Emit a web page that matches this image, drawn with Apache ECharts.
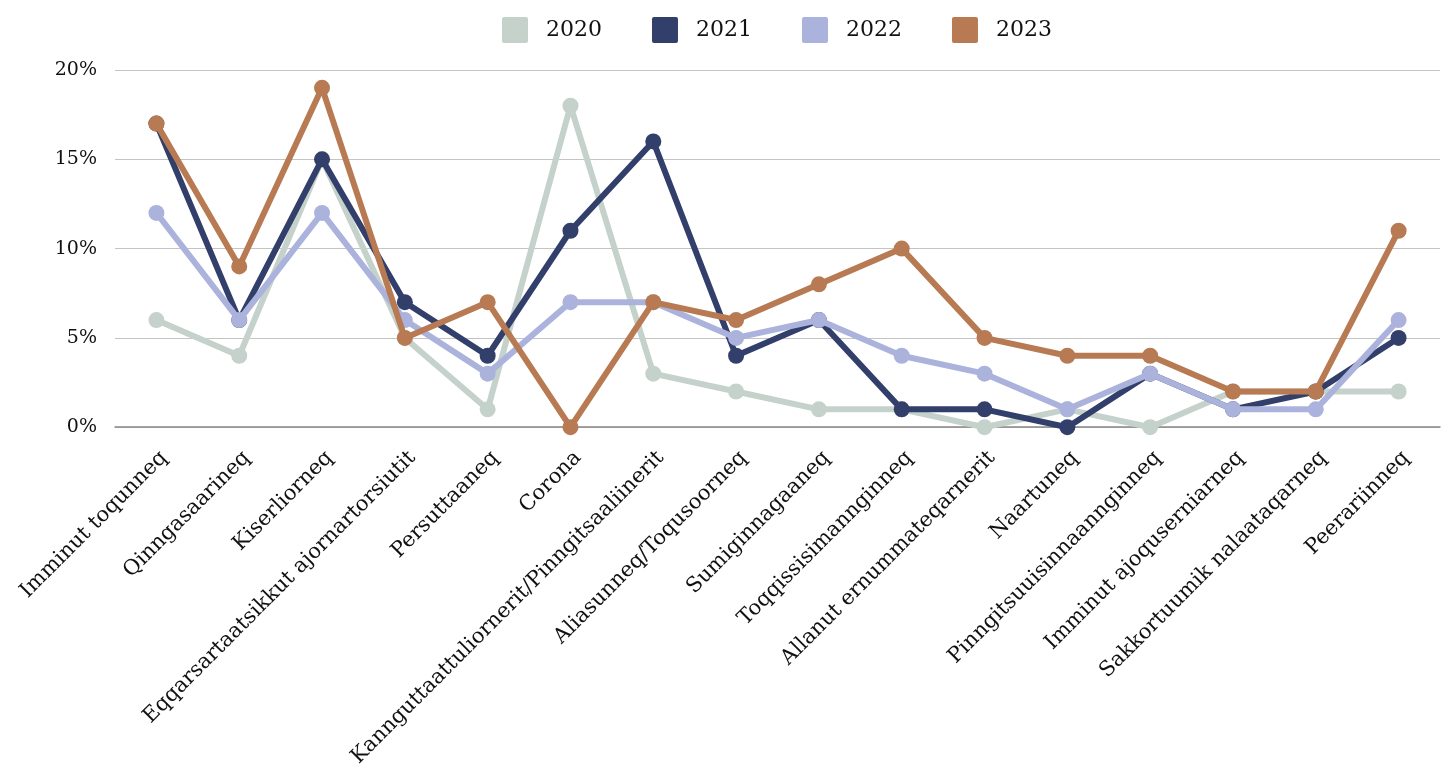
<!DOCTYPE html>
<html><head><meta charset="utf-8">
<script src="https://cdn.jsdelivr.net/npm/echarts@6/dist/echarts.min.js"></script>
<style>html,body{margin:0;padding:0;background:#fff}#c{width:1450px;height:770px}</style>
</head><body><div id="c"></div>
<script>
const categories = ["Imminut toqunneq","Qinngasaarineq","Kiserliorneq","Eqqarsartaatsikkut ajornartorsiutit","Persuttaaneq","Corona","Kannguttaattuliornerit/Pinngitsaaliinerit","Aliasunneq/Toqusoorneq","Sumiginnagaaneq","Toqqissisimannginneq","Allanut ernummateqarnerit","Naartuneq","Pinngitsuuisinnaannginneq","Imminut ajoquserniarneq","Sakkortuumik nalaataqarneq","Peerariinneq"];
const s2020 = [6,4,15,5,1,18,3,2,1,1,0,1,0,2,2,2];
const s2021 = [17,6,15,7,4,11,16,4,6,1,1,0,3,1,2,5];
const s2022 = [12,6,12,6,3,7,7,5,6,4,3,1,3,1,1,6];
const s2023 = [17,9,19,5,7,0,7,6,8,10,5,4,4,2,2,11];
const seriesNames = ["2020","2021","2022","2023"];
const colors = ["#c5d1cb","#333f6b","#abb3dc","#b87a53"];
const font = "DejaVu Serif";
const chart = echarts.init(document.getElementById('c'));
const mk = (name, data, i) => ({
  name, type:'line', data, symbol:'circle', symbolSize:16,
  lineStyle:{width:6, color:colors[i]}, itemStyle:{color:colors[i]}, z:2+i
});
chart.setOption({
  animation:false,
  textStyle:{fontFamily:font},
  legend:{top:12, left:497, itemWidth:26, itemHeight:26, itemGap:50,
    icon:'path://M2,0 L24,0 Q26,0 26,2 L26,24 Q26,26 24,26 L2,26 Q0,26 0,24 L0,2 Q0,0 2,0 Z',
    textStyle:{fontFamily:font, fontSize:22, color:'#111', padding:[0,0,0,13]},
    data:seriesNames},
  grid:{left:115, right:10, top:70, bottom:342, containLabel:false},
  xAxis:{type:'category', data:categories, boundaryGap:true,
    axisLine:{lineStyle:{color:'#888', width:1.5}}, axisTick:{show:false},
    axisLabel:{rotate:45, interval:0, fontFamily:font, fontSize:21, color:'#111', margin:20, verticalAlign:'top'}},
  yAxis:{type:'value', min:0, max:20, interval:5,
    axisLine:{show:false}, axisTick:{show:false},
    splitLine:{lineStyle:{color:'#c4c4c4', width:1.2}},
    axisLabel:{formatter:'{value}%', fontFamily:font, fontSize:19, color:'#111', margin:18}},
  series:[mk(seriesNames[0],s2020,0), mk(seriesNames[1],s2021,1), mk(seriesNames[2],s2022,2), mk(seriesNames[3],s2023,3)]
});
</script></body></html>
